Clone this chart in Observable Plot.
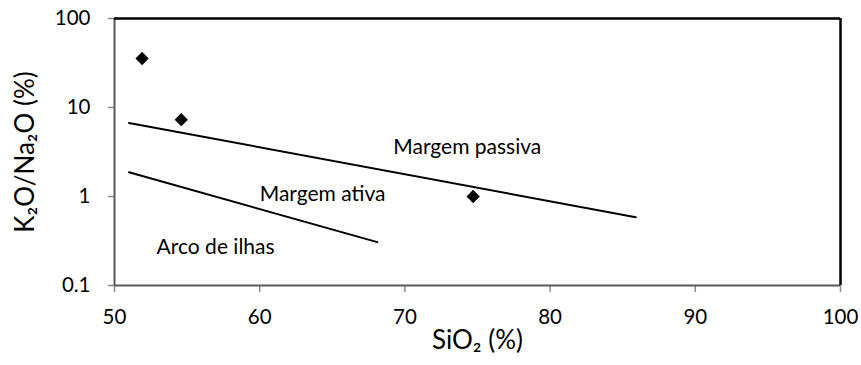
<!DOCTYPE html>
<html>
<head>
<meta charset="utf-8">
<script src="https://cdn.jsdelivr.net/npm/d3@7"></script>
<script src="https://cdn.jsdelivr.net/npm/@observablehq/plot@0.6"></script>
<style>
  html, body { margin: 0; padding: 0; background: #fff; }
</style>
</head>
<body>
<div id="chart"></div>
<script>
// Sample points
const sampleSiO2 = [51.9, 54.6, 74.7];
const sampleRatio = [35.5, 7.3, 1.0];

// Discrimination lines (endpoints)
const passiveSiO2 = [51.0, 85.9];
const passiveRatio = [6.7, 0.585];
const activeSiO2 = [51.0, 68.1];
const activeRatio = [1.87, 0.307];

// Field labels
const fieldNames = ["Margem passiva", "Margem ativa", "Arco de ilhas"];
const fieldSiO2 = [69.2, 60.0, 52.9];
const fieldRatio = [3.56, 1.07, 0.269];

// Axes
const xTicks = [50, 60, 70, 80, 90, 100];
const yTicks = [0.1, 1, 10, 100];
const xTitle = "SiO₂ (%)";
const yTitle = "K₂O/Na₂O (%)";

const points = sampleSiO2.map((x, i) => ({x, y: sampleRatio[i]}));
const passive = passiveSiO2.map((x, i) => ({x, y: passiveRatio[i]}));
const active = activeSiO2.map((x, i) => ({x, y: activeRatio[i]}));
const fields = fieldNames.map((name, i) => ({name, x: fieldSiO2[i], y: fieldRatio[i]}));

const font = "Lato, 'Noto Sans', sans-serif";

const chart = Plot.plot({
  width: 861,
  height: 365,
  marginLeft: 114,
  marginRight: 21,
  marginTop: 18,
  marginBottom: 80,
  style: {fontFamily: font, fontSize: "20.5px", color: "#000", background: "#fff", overflow: "visible"},
  x: {domain: [50, 100]},
  y: {type: "log", domain: [0.1, 100]},
  marks: [
    Plot.axisX({ticks: xTicks, tickSize: 7, tickPadding: 17, stroke: "#8c8c8c", strokeWidth: 1.5, label: null, tickFormat: d => String(d), fill: "#000", fontSize: 20.5}),
    Plot.axisY({ticks: yTicks, tickSize: 6, tickPadding: 18, stroke: "#8c8c8c", strokeWidth: 1.5, label: null, tickFormat: d => String(d), fill: "#000", fontSize: 20.5}),
    Plot.ruleX([50], {stroke: "#595959", strokeWidth: 2}),
    Plot.ruleY([0.1], {stroke: "#595959", strokeWidth: 2}),
    Plot.ruleY([100], {stroke: "#000", strokeWidth: 2.5}),
    Plot.ruleX([100], {stroke: "#000", strokeWidth: 2.5}),
    Plot.line(passive, {x: "x", y: "y", stroke: "#000", strokeWidth: 2}),
    Plot.line(active, {x: "x", y: "y", stroke: "#000", strokeWidth: 2}),
    Plot.dot(points, {x: "x", y: "y", symbol: "diamond2", r: 6, fill: "#000", stroke: null}),
    Plot.text(fields, {x: "x", y: "y", text: "name", textAnchor: "start", fill: "#000", fontSize: 21}),
    Plot.text([xTitle], {text: d => d, frameAnchor: "bottom", textAnchor: "middle", dy: 63, fontSize: 26, fill: "#000"}),
    Plot.text([yTitle], {text: d => d, frameAnchor: "left", textAnchor: "middle", dx: -89, rotate: -90, fontSize: 26, fill: "#000"})
  ]
});
document.getElementById("chart").appendChild(chart);
</script>
</body>
</html>
